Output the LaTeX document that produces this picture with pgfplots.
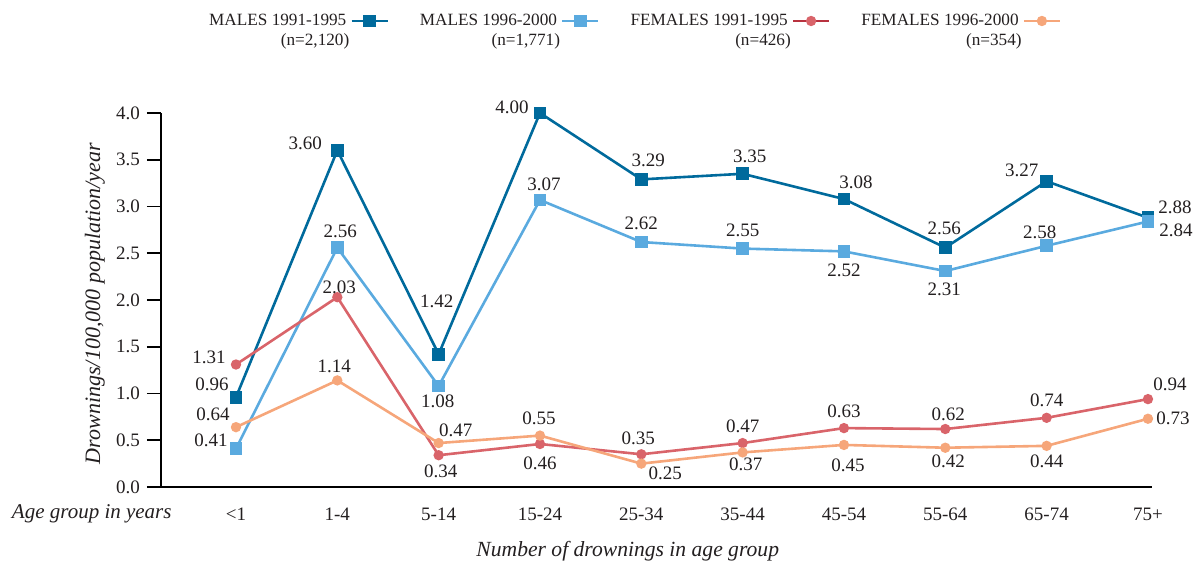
\documentclass[border=0pt]{standalone}
\usepackage{pgfplots}
\pgfplotsset{compat=1.18}
\usepackage{pgfplotstable}
\usepackage{fontspec}
\setmainfont{Liberation Serif}
\definecolor{mdark}{HTML}{006A9C}
\definecolor{mlight}{HTML}{5AAADF}
\definecolor{fred}{HTML}{D9646A}
\definecolor{fredleg}{HTML}{B8323F}
\definecolor{forange}{HTML}{F6A67A}
\definecolor{txt}{HTML}{231F20}
\newcommand\nsub[1]{\makebox[0pt][r]{\raisebox{-10pt}[0pt][0pt]{#1}\hspace{-1.5pt}}}
% label: dx/dy (offset of label centre from point, image px; 1px = 0.5pt) / text
\def\lab#1/#2/#3\relax{\makebox[0pt][c]{\hspace*{#1pt}\raisebox{\dimexpr #2pt/2 - 3.2pt\relax}{#3}}}

\pgfplotstableread{
x y lab
0 0.96 -24/13/0.96
1 3.60 -32/7/3.60
2 1.42 -2/53/1.42
3 4.00 -28/6/4.00
4 3.29 7/19/3.29
5 3.35 7/18/3.35
6 3.08 12/17/3.08
7 2.56 -1/20/2.56
8 3.27 -25/11/3.27
9 2.88 27/11/2.88
}\mA
\pgfplotstableread{
x y lab
0 0.41 -25/9/0.41
1 2.56 3/17/2.56
2 1.08 -1/-15/1.08
3 3.07 4/16/3.07
4 2.62 0/19/2.62
5 2.55 0/18/2.55
6 2.52 0/-19/2.52
7 2.31 -1/-18/2.31
8 2.58 -7/14/2.58
9 2.84 28/-9/2.84
}\mB
\pgfplotstableread{
x y lab
0 1.31 -27/7/1.31
1 2.03 2/10/2.03
2 0.34 2/-16/0.34
3 0.46 0/-19/0.46
4 0.35 -3/16/0.35
5 0.47 0/17/0.47
6 0.63 0/17/0.63
7 0.62 3/15/0.62
8 0.74 0/18/0.74
9 0.94 22/15/0.94
}\fA
\pgfplotstableread{
x y lab
0 0.64 -23/13/0.64
1 1.14 -3/14/1.14
2 0.47 17/13/0.47
3 0.55 -1/17/0.55
4 0.25 24/-9/0.25
5 0.37 3/-12/0.37
6 0.45 4/-20/0.45
7 0.42 3/-13/0.42
8 0.44 0/-15/0.44
9 0.73 25/1/0.73
}\fB

\pgfplotsset{
  lab/.style={
    point meta=explicit symbolic,
    nodes near coords={\expandafter\lab\pgfplotspointmeta\relax},
    every node near coord/.append style={anchor=base, inner sep=0pt, text=txt, font=\fontsize{9.5pt}{11pt}\selectfont},
  },
}

\begin{document}
\begin{tikzpicture}
\useasboundingbox (-80.5pt,-38pt) rectangle (520pt,243.5pt);
\begin{axis}[
  scale only axis,
  width=495.5pt, height=187pt,
  font=\fontsize{9.5pt}{11pt}\selectfont,
  /pgf/number format/assume math mode=true,
  axis lines=left,
  axis line style={-, line width=0.9pt, black},
  xmin=-0.74, xmax=9.04,
  ymin=0, ymax=4,
  xtick={0,...,9},
  xticklabels={<1,1-4,5-14,15-24,25-34,35-44,45-54,55-64,65-74,75+},
  xtick style={draw=none},
  xticklabel style={anchor=base, yshift=-9.5pt, text=txt},
  ytick={0,0.5,...,4},
  ytick style={line width=0.9pt, black},
  tick align=outside,
  major tick length=7pt,
  yticklabel style={/pgf/number format/.cd, fixed, fixed zerofill, precision=1, /tikz/.cd, text=txt},
  ylabel={\itshape Drownings/100,000 population/year},
  ylabel style={at={(axis description cs:-0.0666,0.49)}, anchor=center, text=txt, font=\fontsize{11pt}{13pt}\selectfont},
  xlabel={\itshape Number of drownings in age group},
  xlabel style={at={(axis description cs:0.471,0)}, anchor=base, yshift=-34.5pt, text=txt, font=\fontsize{10.8pt}{13pt}\selectfont},
  legend plot pos=right,
  legend columns=4,
  legend style={draw=none, fill=none, at={(0.478,1)}, anchor=center, yshift=46pt,
    font=\fontsize{8.6pt}{10pt}\selectfont,
    nodes={inner sep=0.5pt, text=txt},
    /tikz/every odd column/.append style={column sep=1.5pt},
    /tikz/every even column/.append style={column sep=15pt}},
  legend image code/.code={\draw[mark repeat=2, mark phase=2] plot coordinates {(0pt,0pt) (9pt,0pt) (18pt,0pt)};},
  clip=false,
]
\addlegendimage{mdark, line width=1.3pt, mark=square*, mark size=2.5pt}
\addlegendentry{MALES 1991-1995\nsub{(n=2,120)}}
\addlegendimage{mlight, line width=1.3pt, mark=square*, mark size=2.5pt}
\addlegendentry{MALES 1996-2000\nsub{(n=1,771)}}
\addlegendimage{fredleg, line width=1.3pt, mark=*, mark size=1.9pt, mark options={fred}}
\addlegendentry{FEMALES 1991-1995\nsub{(n=426)}}
\addlegendimage{forange, line width=1.3pt, mark=*, mark size=1.9pt}
\addlegendentry{FEMALES 1996-2000\nsub{(n=354)}}

\addplot[mdark, line width=1.3pt, mark=square*, mark size=2.5pt, lab, forget plot] table[x=x, y=y, meta=lab] {\mA};
\addplot[mlight, line width=1.3pt, mark=square*, mark size=2.5pt, lab, forget plot] table[x=x, y=y, meta=lab] {\mB};
\addplot[fred, line width=1.3pt, mark=*, mark size=1.9pt, lab, forget plot] table[x=x, y=y, meta=lab] {\fA};
\addplot[forange, line width=1.3pt, mark=*, mark size=1.9pt, lab, forget plot] table[x=x, y=y, meta=lab] {\fB};
\end{axis}
\node[anchor=base east, inner sep=0pt, font=\fontsize{10.5pt}{13pt}\selectfont\itshape, text=txt] at (5.5pt,-16pt) {Age group in years};
\end{tikzpicture}
\end{document}
